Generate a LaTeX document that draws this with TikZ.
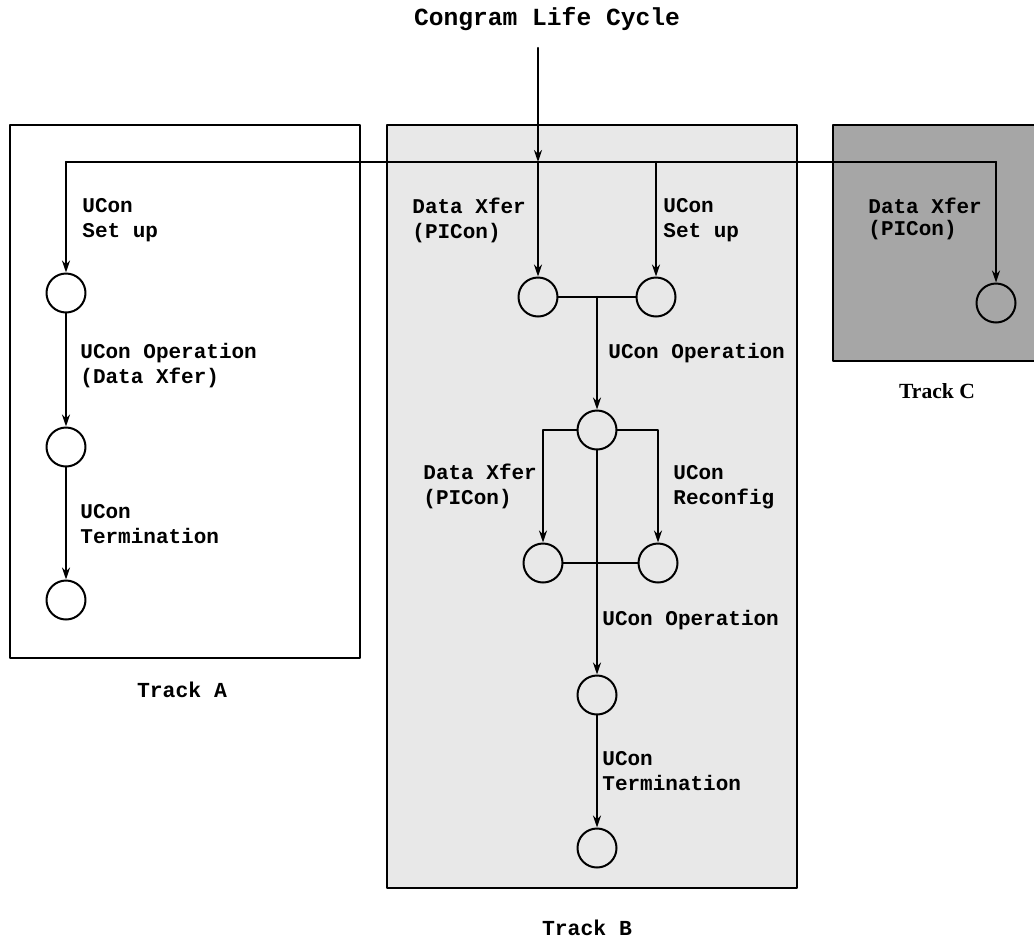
\documentclass[tikz,border=0pt]{standalone}
\usepackage{fontspec}
\setmonofont{Liberation Mono}
\newfontfamily\trackfont{Liberation Serif}
\usetikzlibrary{arrows.meta,calc}

\begin{document}
\begin{tikzpicture}[x=0.5pt, y=-0.5pt, line cap=round, line join=round, >={Stealth[length=6pt,width=4pt]}]
    \useasboundingbox (0,0) rectangle (1034,943);
    \tikzset{
        state/.style={circle, draw, line width=1pt, minimum size=19.5pt, inner sep=0pt},
        lbl/.style={font=\ttfamily\bfseries\fontsize{10.5}{12.5}\selectfont, align=left, anchor=west, inner sep=0pt},
        flow/.style={line width=1.1pt}
    }

    % tracks
    \draw[line width=1.1pt] (10,125) rectangle (360,658);
    \draw[line width=1.1pt, fill=black!9] (387,125) rectangle (797,888);
    \draw[line width=1.1pt, fill=black!35] (833,125) rectangle (1040,361);

    \node[font=\ttfamily\bfseries\fontsize{12.3}{14}\selectfont] (title) at (547,19) {Congram Life Cycle};
    \node[font=\ttfamily\bfseries\fontsize{10.7}{12}\selectfont] (trackA) at (182,690) {Track A};
    \node[font=\ttfamily\bfseries\fontsize{10.7}{12}\selectfont] (trackB) at (587,928) {Track B};
    \node[font=\trackfont\bfseries\fontsize{10.8}{12}\selectfont] (trackC) at (937,391) {Track C};

    % states
    \node[state] (a1) at (66,293) {};
    \node[state] (a2) at (66,447) {};
    \node[state] (a3) at (66,600) {};
    \node[state] (b1) at (538,297) {};
    \node[state] (b2) at (656,297) {};
    \node[state] (b3) at (597,430) {};
    \node[state] (b4) at (543,563) {};
    \node[state] (b5) at (658,563) {};
    \node[state] (b6) at (597,695) {};
    \node[state] (b7) at (597,848) {};
    \node[state] (c1) at (996,303) {};

    \coordinate (src) at (538,48);
    \coordinate (jtop) at (538,162);
    \coordinate (jA) at (66,162);
    \coordinate (jC) at (996,162);

    % connectors
    \draw[flow,->] (src) -- (jtop);
    \draw[flow] (jA) -- (jC);
    \draw[flow,->] (jA) -- (a1);
    \draw[flow,->] (a1) -- (a2);
    \draw[flow,->] (a2) -- (a3);
    \draw[flow,->] (jtop) -- (b1);
    \draw[flow,->] (b2 |- jtop) -- (b2);
    \draw[flow] (b1) -- (b2);
    \draw[flow,->] ($(b1)!0.5!(b2)$) -- (b3);
    \draw[flow,->] (b3.west) -| (b4);
    \draw[flow,->] (b3.east) -| (b5);
    \draw[flow] (b4) -- (b5);
    \draw[flow,->] (b3) -- (b6);
    \draw[flow,->] (b6) -- (b7);
    \draw[flow,->] (jC) -- (c1);

    % labels
    \node[lbl] (lA1) at (82,220) {UCon\\Set up};
    \node[lbl] (lA2) at (80,366) {UCon Operation\\(Data Xfer)};
    \node[lbl] (lA3) at (80,524) {UCon\\Termination};
    \node[lbl] (lB1) at (412,220) {Data Xfer\\(PICon)};
    \node[lbl] (lB2) at (663,220) {UCon\\Set up};
    \node[lbl] (lB3) at (608,353) {UCon Operation};
    \node[lbl] (lB4) at (423,486) {Data Xfer\\(PICon)};
    \node[lbl] (lB5) at (673,487) {UCon\\Reconfig};
    \node[lbl] (lB6) at (602,620) {UCon Operation};
    \node[lbl] (lB7) at (602,771) {UCon\\Termination};
    \node[lbl, font=\ttfamily\bfseries\fontsize{10.5}{11}\selectfont] (lC1) at (868,219) {Data Xfer\\(PICon)};
\end{tikzpicture}
\end{document}
